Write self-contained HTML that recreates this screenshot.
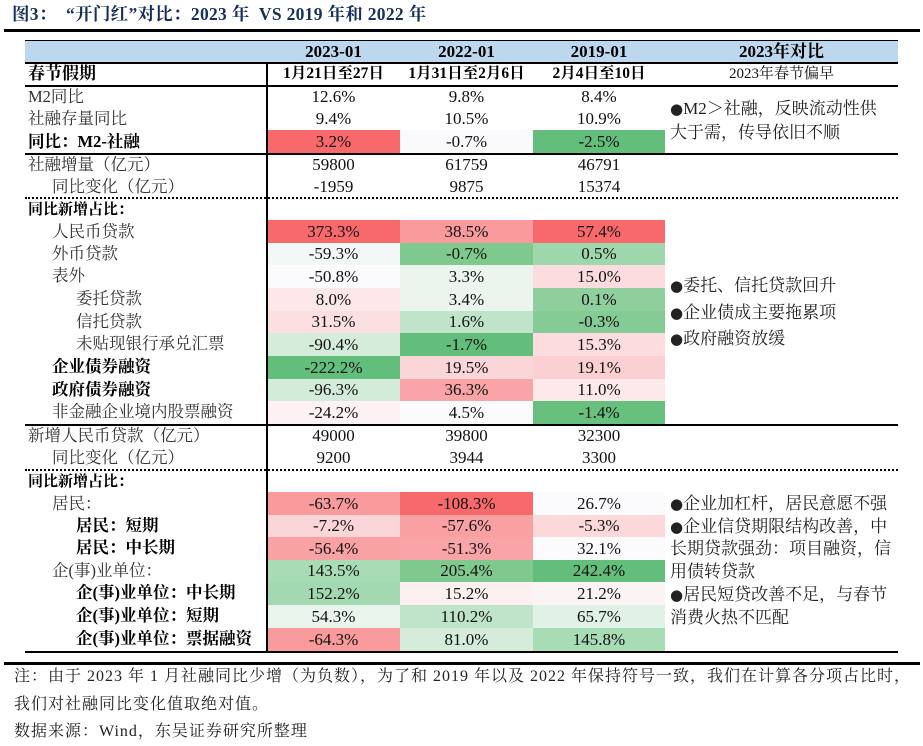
<!DOCTYPE html>
<html><head><meta charset="utf-8"><style>
body{margin:0;width:923px;height:742px;background:#fff;position:relative;overflow:hidden;font-family:"Liberation Serif","Noto Serif CJK SC",serif;color:#111}
div{position:absolute;box-sizing:border-box}
.t{font-size:16.5px;line-height:22px;white-space:nowrap}
.l{color:#333}
.b{font-weight:bold;color:#000}
.c{text-align:center;font-size:17px;white-space:nowrap}
.d{font-family:"DejaVu Sans",sans-serif;font-size:15px}
</style></head><body>
<div style="left:12px;top:2px;font-size:17.5px;font-weight:bold;color:#17305a;line-height:24px;white-space:nowrap;letter-spacing:0.3px">图3：&nbsp;&nbsp;“开门红”对比：2023 年&nbsp; VS 2019 年和 2022 年</div>
<div style="left:4px;top:29px;width:916px;height:3px;background:#000"></div>

<div style="left:25px;top:40px;width:873px;height:23px;background:#bdd7ee;border-top:1.5px solid #000"></div>
<div style="left:25px;top:62px;width:873px;height:2px;background:#000"></div>
<div style="left:25px;top:85px;width:873px;height:1.5px;background:#000"></div>
<div style="left:25px;top:153px;width:873px;height:1.5px;background:#000"></div>
<div style="left:25px;top:197px;width:873px;height:0;border-top:2px dotted #000"></div>
<div style="left:25px;top:424px;width:873px;height:1.5px;background:#000"></div>
<div style="left:25px;top:469px;width:873px;height:0;border-top:2px dotted #000"></div>
<div style="left:25px;top:651px;width:873px;height:1.5px;background:#000"></div>
<div style="left:4px;top:662px;width:916px;height:2.5px;background:#000"></div>

<div class="c b" style="left:267px;top:40px;width:133px;line-height:23px;font-size:17px">2023-01</div>
<div class="c b" style="left:400px;top:40px;width:133px;line-height:23px;font-size:17px">2022-01</div>
<div class="c b" style="left:533px;top:40px;width:132px;line-height:23px;font-size:17px">2019-01</div>
<div class="c b" style="left:665px;top:40px;width:233px;line-height:23px;font-size:17px">2023年对比</div>
<div class="t b" style="left:28px;top:63px;font-size:17px">春节假期</div>
<div class="c b" style="left:267px;top:63px;width:133px;line-height:22px;font-size:15.5px">1月21日至27日</div>
<div class="c b" style="left:400px;top:63px;width:133px;line-height:22px;font-size:15.5px">1月31日至2月6日</div>
<div class="c b" style="left:533px;top:63px;width:132px;line-height:22px;font-size:15.5px">2月4日至10日</div>
<div class="c" style="left:665px;top:63px;width:233px;line-height:22px;font-size:15px">2023年春节偏早</div>

<div class="t l" style="left:28px;top:86px">M2同比</div>
<div class="c" style="left:267px;top:86px;width:133px;height:22px;line-height:22px">12.6%</div>
<div class="c" style="left:400px;top:86px;width:133px;height:22px;line-height:22px">9.8%</div>
<div class="c" style="left:533px;top:86px;width:132px;height:22px;line-height:22px">8.4%</div>

<div class="t l" style="left:28px;top:108px">社融存量同比</div>
<div class="c" style="left:267px;top:108px;width:133px;height:22px;line-height:22px">9.4%</div>
<div class="c" style="left:400px;top:108px;width:133px;height:22px;line-height:22px">10.5%</div>
<div class="c" style="left:533px;top:108px;width:132px;height:22px;line-height:22px">10.9%</div>

<div class="t b" style="left:28px;top:131px">同比：M2-社融</div>
<div class="c" style="left:267px;top:130px;width:133px;height:23px;line-height:23px;background:#f8696b">3.2%</div>
<div class="c" style="left:400px;top:130px;width:133px;height:23px;line-height:23px;background:#fafafd">-0.7%</div>
<div class="c" style="left:533px;top:130px;width:132px;height:23px;line-height:23px;background:#63be7b">-2.5%</div>

<div class="t l" style="left:28px;top:154px">社融增量（亿元）</div>
<div class="c" style="left:267px;top:154px;width:133px;line-height:22px">59800</div>
<div class="c" style="left:400px;top:154px;width:133px;line-height:22px">61759</div>
<div class="c" style="left:533px;top:154px;width:132px;line-height:22px">46791</div>
<div class="t l" style="left:52px;top:176px">同比变化（亿元）</div>
<div class="c" style="left:267px;top:176px;width:133px;line-height:22px">-1959</div>
<div class="c" style="left:400px;top:176px;width:133px;line-height:22px">9875</div>
<div class="c" style="left:533px;top:176px;width:132px;line-height:22px">15374</div>

<div class="t b" style="left:28px;top:199px;font-size:15px">同比新增占比：</div>

<div class="t l" style="left:52px;top:221px">人民币贷款</div>
<div class="c" style="left:267px;top:220px;width:133px;height:23px;line-height:23px;background:#f8696b">373.3%</div>
<div class="c" style="left:400px;top:220px;width:133px;height:23px;line-height:23px;background:#f99a9c">38.5%</div>
<div class="c" style="left:533px;top:220px;width:132px;height:23px;line-height:23px;background:#f8696b">57.4%</div>

<div class="t l" style="left:52px;top:243px">外币贷款</div>
<div class="c" style="left:267px;top:243px;width:133px;height:22px;line-height:22px;background:#f3f8f6">-59.3%</div>
<div class="c" style="left:400px;top:243px;width:133px;height:22px;line-height:22px;background:#7fc98f">-0.7%</div>
<div class="c" style="left:533px;top:243px;width:132px;height:22px;line-height:22px;background:#9dd7ab">0.5%</div>

<div class="t l" style="left:52px;top:265px">表外</div>
<div class="c" style="left:267px;top:265px;width:133px;height:23px;line-height:23px;background:#fbfbfd">-50.8%</div>
<div class="c" style="left:400px;top:265px;width:133px;height:23px;line-height:23px;background:#ebf5ee">3.3%</div>
<div class="c" style="left:533px;top:265px;width:132px;height:23px;line-height:23px;background:#fcdcde">15.0%</div>

<div class="t l" style="left:76px;top:288px">委托贷款</div>
<div class="c" style="left:267px;top:288px;width:133px;height:23px;line-height:23px;background:#fde7e9">8.0%</div>
<div class="c" style="left:400px;top:288px;width:133px;height:23px;line-height:23px;background:#ebf5ee">3.4%</div>
<div class="c" style="left:533px;top:288px;width:132px;height:23px;line-height:23px;background:#8ecf9d">0.1%</div>

<div class="t l" style="left:76px;top:311px">信托贷款</div>
<div class="c" style="left:267px;top:311px;width:133px;height:22px;line-height:22px;background:#fcdfe1">31.5%</div>
<div class="c" style="left:400px;top:311px;width:133px;height:22px;line-height:22px;background:#c0e4c9">1.6%</div>
<div class="c" style="left:533px;top:311px;width:132px;height:22px;line-height:22px;background:#85cb95">-0.3%</div>

<div class="t l" style="left:76px;top:333px">未贴现银行承兑汇票</div>
<div class="c" style="left:267px;top:333px;width:133px;height:23px;line-height:23px;background:#d5ecdb">-90.4%</div>
<div class="c" style="left:400px;top:333px;width:133px;height:23px;line-height:23px;background:#63be7b">-1.7%</div>
<div class="c" style="left:533px;top:333px;width:132px;height:23px;line-height:23px;background:#fcdcde">15.3%</div>

<div class="t b" style="left:52px;top:356px">企业债券融资</div>
<div class="c" style="left:267px;top:356px;width:133px;height:23px;line-height:23px;background:#63be7b">-222.2%</div>
<div class="c" style="left:400px;top:356px;width:133px;height:23px;line-height:23px;background:#fbd6d8">19.5%</div>
<div class="c" style="left:533px;top:356px;width:132px;height:23px;line-height:23px;background:#fbd0d3">19.1%</div>

<div class="t b" style="left:52px;top:379px">政府债券融资</div>
<div class="c" style="left:267px;top:379px;width:133px;height:22px;line-height:22px;background:#d3ebd9">-96.3%</div>
<div class="c" style="left:400px;top:379px;width:133px;height:22px;line-height:22px;background:#f9a4a6">36.3%</div>
<div class="c" style="left:533px;top:379px;width:132px;height:22px;line-height:22px;background:#fde8ea">11.0%</div>

<div class="t l" style="left:52px;top:401px">非金融企业境内股票融资</div>
<div class="c" style="left:267px;top:401px;width:133px;height:23px;line-height:23px;background:#fdf1f3">-24.2%</div>
<div class="c" style="left:400px;top:401px;width:133px;height:23px;line-height:23px;background:#fbfbfd">4.5%</div>
<div class="c" style="left:533px;top:401px;width:132px;height:23px;line-height:23px;background:#67c07e">-1.4%</div>

<div class="t l" style="left:28px;top:425px">新增人民币贷款（亿元）</div>
<div class="c" style="left:267px;top:425px;width:133px;line-height:22px">49000</div>
<div class="c" style="left:400px;top:425px;width:133px;line-height:22px">39800</div>
<div class="c" style="left:533px;top:425px;width:132px;line-height:22px">32300</div>
<div class="t l" style="left:52px;top:447px">同比变化（亿元）</div>
<div class="c" style="left:267px;top:447px;width:133px;line-height:22px">9200</div>
<div class="c" style="left:400px;top:447px;width:133px;line-height:22px">3944</div>
<div class="c" style="left:533px;top:447px;width:132px;line-height:22px">3300</div>

<div class="t b" style="left:28px;top:471px;font-size:15px">同比新增占比：</div>

<div class="t l" style="left:52px;top:493px">居民：</div>
<div class="c" style="left:267px;top:492px;width:133px;height:23px;line-height:23px;background:#f99a9c">-63.7%</div>
<div class="c" style="left:400px;top:492px;width:133px;height:23px;line-height:23px;background:#f8696b">-108.3%</div>
<div class="c" style="left:533px;top:492px;width:132px;height:23px;line-height:23px;background:#fbfbfd">26.7%</div>

<div class="t b" style="left:76px;top:515px">居民：短期</div>
<div class="c" style="left:267px;top:515px;width:133px;height:22px;line-height:22px;background:#fbd6d8">-7.2%</div>
<div class="c" style="left:400px;top:515px;width:133px;height:22px;line-height:22px;background:#f9a0a2">-57.6%</div>
<div class="c" style="left:533px;top:515px;width:132px;height:22px;line-height:22px;background:#fcd8da">-5.3%</div>

<div class="t b" style="left:76px;top:537px">居民：中长期</div>
<div class="c" style="left:267px;top:537px;width:133px;height:23px;line-height:23px;background:#f9a2a4">-56.4%</div>
<div class="c" style="left:400px;top:537px;width:133px;height:23px;line-height:23px;background:#f9a4a6">-51.3%</div>
<div class="c" style="left:533px;top:537px;width:132px;height:23px;line-height:23px;background:#fbfbfd">32.1%</div>

<div class="t l" style="left:52px;top:560px">企(事)业单位：</div>
<div class="c" style="left:267px;top:560px;width:133px;height:22px;line-height:22px;background:#a8dcb5">143.5%</div>
<div class="c" style="left:400px;top:560px;width:133px;height:22px;line-height:22px;background:#7fc98f">205.4%</div>
<div class="c" style="left:533px;top:560px;width:132px;height:22px;line-height:22px;background:#63be7b">242.4%</div>

<div class="t b" style="left:76px;top:582px">企(事)业单位：中长期</div>
<div class="c" style="left:267px;top:582px;width:133px;height:23px;line-height:23px;background:#a3d9b1">152.2%</div>
<div class="c" style="left:400px;top:582px;width:133px;height:23px;line-height:23px;background:#fcf0f2">15.2%</div>
<div class="c" style="left:533px;top:582px;width:132px;height:23px;line-height:23px;background:#fcf3f5">21.2%</div>

<div class="t b" style="left:76px;top:605px">企(事)业单位：短期</div>
<div class="c" style="left:267px;top:605px;width:133px;height:23px;line-height:23px;background:#e8f4ec">54.3%</div>
<div class="c" style="left:400px;top:605px;width:133px;height:23px;line-height:23px;background:#c0e4c9">110.2%</div>
<div class="c" style="left:533px;top:605px;width:132px;height:23px;line-height:23px;background:#e0f1e5">65.7%</div>

<div class="t b" style="left:76px;top:628px">企(事)业单位：票据融资</div>
<div class="c" style="left:267px;top:628px;width:133px;height:23px;line-height:23px;background:#f99a9c">-64.3%</div>
<div class="c" style="left:400px;top:628px;width:133px;height:23px;line-height:23px;background:#d5ecdb">81.0%</div>
<div class="c" style="left:533px;top:628px;width:132px;height:23px;line-height:23px;background:#a8dcb5">145.8%</div>

<div style="left:266px;top:63px;width:1.5px;height:589px;background:#000"></div>

<div class="t" style="left:670px;top:97px;font-size:17px;line-height:23px;color:#222"><span class="d">●</span>M2＞社融，反映流动性供<br>大于需，传导依旧不顺</div>
<div class="t" style="left:670px;top:273px;font-size:17px;line-height:26.5px;color:#222"><span class="d">●</span>委托、信托贷款回升<br><span class="d">●</span>企业债成主要拖累项<br><span class="d">●</span>政府融资放缓</div>
<div class="t" style="left:670px;top:493px;font-size:17px;line-height:22.7px;color:#222"><span class="d">●</span>企业加杠杆，居民意愿不强<br><span class="d">●</span>企业信贷期限结构改善，中<br>长期贷款强劲：项目融资，信<br>用债转贷款<br><span class="d">●</span>居民短贷改善不足，与春节<br>消费火热不匹配</div>

<div class="t" style="left:14px;top:663px;font-size:16px;line-height:27.5px;color:#222;letter-spacing:1px">注：由于 2023 年 1 月社融同比少增（为负数），为了和 2019 年以及 2022 年保持符号一致，我们在计算各分项占比时，<br>我们对社融同比变化值取绝对值。<br>数据来源：Wind，东吴证券研究所整理</div>
</body></html>
